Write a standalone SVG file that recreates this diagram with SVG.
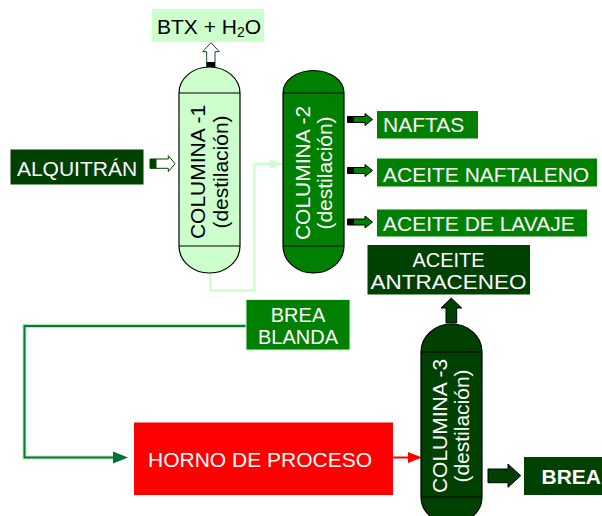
<svg xmlns="http://www.w3.org/2000/svg" width="602" height="516" viewBox="0 0 602 516">
<style>
text{font-family:"Liberation Sans",Arial,sans-serif;font-size:21px}
.w{fill:#ffffff}
.k{fill:#000000}
.mid{text-anchor:middle}
.two{font-size:20px}
.col{stroke:#000;stroke-width:1.2}
.sep{stroke:#000;stroke-width:1.2;fill:none}
</style>
<rect width="602" height="516" fill="#ffffff"/>

<g id="connectors">
  <polyline points="210.5,273 210.5,290.5 254.5,290.5 254.5,164 271,164" fill="none" stroke="#ccffcc" stroke-width="2.5"/>
  <polygon points="270,159.5 283.5,164 270,168.5" fill="#ccffcc"/>
  <polyline points="246,326 24.5,326 24.5,457.5 114,457.5" fill="none" stroke="#b8e8c0" stroke-width="4"/>
  <polyline points="246,326 24.5,326 24.5,457.5 114,457.5" fill="none" stroke="#0a7a3a" stroke-width="2"/>
  <polygon points="113,451.5 128,457.5 113,463.5" fill="#00703c"/>
  <line x1="393" y1="457.5" x2="410" y2="457.5" stroke="#ff0000" stroke-width="2"/>
  <polygon points="408,452 422,457.5 408,463" fill="#ff0000"/>
  <polygon points="206.7,67 206.7,51.7 202.7,51.7 211,42.7 219.3,51.7 215,51.7 215,67" fill="#ffffff" stroke="#1a4a1a" stroke-width="1"/>
  <rect x="206.7" y="62" width="8.3" height="5" fill="#000"/>
  <polygon points="150,159 168.3,159 168.3,155.7 175,163.7 168.3,171.7 168.3,168.3 150,168.3" fill="#ffffff" stroke="#004000" stroke-width="1"/>
  <rect x="150" y="159" width="6.5" height="9.3" fill="#004000"/>
  <g id="out-arrows">
    <polygon points="347.5,116.5 365,116.5 365,113.5 372.5,119.5 365,125.5 365,122.5 347.5,122.5" fill="#008000" stroke="#000" stroke-width="1"/>
    <rect x="347.5" y="116.5" width="6.5" height="6" fill="#000"/>
    <polygon points="347.5,167.5 365,167.5 365,164.5 372.5,170.5 365,176.5 365,173.5 347.5,173.5" fill="#008000" stroke="#000" stroke-width="1"/>
    <rect x="347.5" y="167.5" width="6.5" height="6" fill="#000"/>
    <polygon points="347.5,219 365,219 365,216 372.5,222 365,228 365,225 347.5,225" fill="#008000" stroke="#000" stroke-width="1"/>
    <rect x="347.5" y="219" width="6.5" height="6" fill="#000"/>
  </g>
  <polygon points="446,323 446,308 441,308 451.3,298 461.7,308 456.7,308 456.7,323" fill="#004000" stroke="#000" stroke-width="1"/>
  <polygon points="488,469 508,469 508,464 520.7,475.7 508,487.3 508,482.7 488,482.7" fill="#004000" stroke="#000" stroke-width="1"/>
</g>

<g id="btx">
  <rect x="152" y="9" width="112" height="33" fill="#ccffcc"/>
  <text x="157" y="34" class="k">BTX + H<tspan font-size="14" dy="3">2</tspan><tspan dy="-3">O</tspan></text>
</g>

<g id="alquitran">
  <rect x="10.5" y="149.5" width="133" height="35" fill="#004000"/>
  <text x="77" y="176" class="w mid">ALQUITRÁN</text>
</g>

<g id="columna-1">
  <path class="col" d="M179,93 A30.5,26 0 0 1 240,93 L240,246 A30.5,27 0 0 1 179,246 Z" fill="#ccffcc"/>
  <path class="sep" d="M179,93 H240 M179,246 H240"/>
  <g transform="translate(205,172) rotate(-90)">
    <text x="0" y="0" class="k mid">COLUMINA -1</text>
    <text x="0" y="23" class="k mid">(destilación)</text>
  </g>
</g>

<g id="columna-2">
  <path class="col" d="M283,93 A30.5,22.5 0 0 1 344,93 L344,246 A30.5,27 0 0 1 283,246 Z" fill="#008000"/>
  <path class="sep" d="M283,93 H344 M283,246 H344"/>
  <g transform="translate(310,173) rotate(-90)">
    <text x="0" y="0" class="w mid">COLUMINA -2</text>
    <text x="0" y="22" class="w mid">(destilación)</text>
  </g>
</g>

<g id="naftas">
  <rect x="377" y="111" width="101" height="27.5" fill="#008000"/>
  <text x="383" y="132" class="w">NAFTAS</text>
</g>
<g id="aceite-naftaleno">
  <rect x="377" y="158.5" width="220" height="28" fill="#008000"/>
  <text x="383" y="182" class="w">ACEITE NAFTALENO</text>
</g>
<g id="aceite-lavaje">
  <rect x="377" y="209.5" width="210" height="27" fill="#008000"/>
  <text x="383" y="231" class="w">ACEITE DE LAVAJE</text>
</g>

<g id="aceite-antraceneo">
  <rect x="367.5" y="245" width="162.5" height="49.5" fill="#004000"/>
  <text x="448.5" y="267" class="w mid two">ACEITE</text>
  <text x="448.5" y="289" class="w mid two" textLength="156" lengthAdjust="spacingAndGlyphs">ANTRACENEO</text>
</g>

<g id="brea-blanda">
  <rect x="246" y="299.5" width="104" height="50.5" fill="#008000" stroke="#ccffcc" stroke-width="1"/>
  <text x="298" y="322" class="w mid two">BREA</text>
  <text x="298" y="344" class="w mid two">BLANDA</text>
</g>

<g id="horno">
  <rect x="134" y="422.5" width="259" height="72.5" fill="#ff0000"/>
  <text x="260" y="466.5" class="w mid">HORNO DE PROCESO</text>
</g>

<g id="columna-3">
  <path class="col" d="M421,352 A30.5,28 0 0 1 482,352 L482,497 A30.5,27 0 0 1 421,497 Z" fill="#004000"/>
  <path class="sep" d="M421,352 H482 M421,497 H482"/>
  <g transform="translate(447,426) rotate(-90)">
    <text x="0" y="0" class="w mid">COLUMINA -3</text>
    <text x="0" y="22" class="w mid">(destilación)</text>
  </g>
</g>

<g id="brea">
  <rect x="524" y="457" width="80" height="38" fill="#004000"/>
  <text x="541.5" y="484" class="w" font-weight="bold">BREA</text>
</g>
</svg>
